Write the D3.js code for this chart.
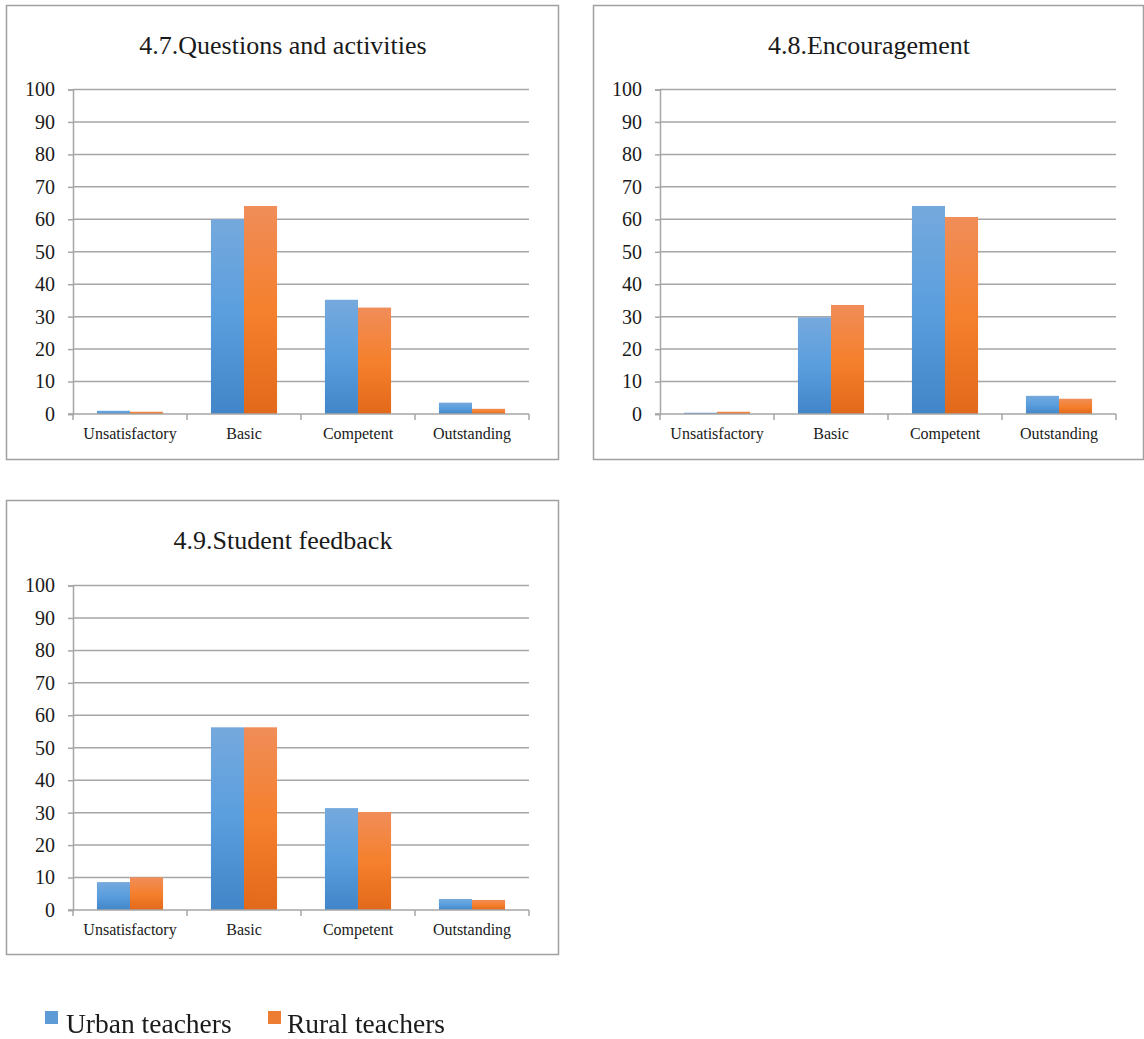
<!DOCTYPE html>
<html>
<head>
<meta charset="utf-8">
<script src="https://cdn.jsdelivr.net/npm/d3@7/dist/d3.min.js"></script>
<style>
  html, body { margin: 0; padding: 0; background: #fff; }
  svg { display: block; }
  svg text { font-family: "Liberation Serif", "Times New Roman", Times, serif; fill: #1a1a1a; }
</style>
</head>
<body>
<svg id="chart" width="1144" height="1039"></svg>
<script>
// Rating levels on the x axis
const categories = ["Unsatisfactory", "Basic", "Competent", "Outstanding"];
const seriesNames = ["Urban teachers", "Rural teachers"];
const yTickValues = [0, 10, 20, 30, 40, 50, 60, 70, 80, 90, 100];

// Percentages per panel
const titles = ["4.7.Questions and activities", "4.8.Encouragement", "4.9.Student feedback"];
const urban47 = [1.0, 60.0, 35.2, 3.5];
const rural47 = [0.7, 64.1, 32.8, 1.6];
const urban48 = [0.4, 29.8, 64.1, 5.6];
const rural48 = [0.7, 33.6, 60.7, 4.7];
const urban49 = [8.6, 56.3, 31.4, 3.4];
const rural49 = [10.1, 56.3, 30.2, 3.1];

const panelData = [
  { title: titles[0], urban: urban47, rural: rural47 },
  { title: titles[1], urban: urban48, rural: rural48 },
  { title: titles[2], urban: urban49, rural: rural49 }
];

// Frame and plot placement of each panel
const panelBoxes = [
  { x: 6,   y: 5,   w: 552, h: 454 },
  { x: 593, y: 5,   w: 550, h: 454 },
  { x: 6,   y: 500, w: 552, h: 454 }
];
const plotOffsets = [
  { left: 67, top: 84.5 },
  { left: 67, top: 84.5 },
  { left: 67, top: 85.5 }
];
const plotW = 456, plotH = 324.5;
const serif = "'Liberation Serif', 'Times New Roman', Times, serif";

const svg = d3.select("#chart");
svg.append("rect").attr("width", 1144).attr("height", 1039).attr("fill", "#fff");

const defs = svg.append("defs");
// Vertical gradients for the two series
function addGradient(id, stops) {
  const g = defs.append("linearGradient").attr("id", id)
    .attr("x1", 0).attr("y1", 0).attr("x2", 0).attr("y2", 1);
  stops.forEach(s => g.append("stop").attr("offset", s[0]).attr("stop-color", s[1]));
}
addGradient("gUrban", [[0, "#75A9DD"], [0.5, "#5A9EDE"], [1, "#4285C8"]]);
addGradient("gRural", [[0, "#F08D59"], [0.5, "#F5802D"], [1, "#E2691A"]]);
const fills = ["url(#gUrban)", "url(#gRural)"];

// soft edge for the legend row
defs.append("filter").attr("id", "soft")
  .append("feGaussianBlur").attr("stdDeviation", 0.6);

const gridColor = "#A6A6A6";

panelData.forEach((pd, i) => {
  const box = panelBoxes[i];
  const off = plotOffsets[i];

  svg.append("rect")
    .attr("x", box.x + 0.5).attr("y", box.y + 0.5)
    .attr("width", box.w).attr("height", box.h)
    .attr("fill", "#fff").attr("stroke", "#A0A0A0").attr("stroke-width", 1.5);

  svg.append("text")
    .attr("x", box.x + box.w / 2 + 1).attr("y", box.y + 49)
    .attr("text-anchor", "middle")
    .attr("font-family", serif)
    .attr("font-size", 26)
    .text(pd.title);

  const g = svg.append("g")
    .attr("transform", `translate(${box.x + off.left},${box.y + off.top})`);

  const y = d3.scaleLinear().domain([0, 100]).range([plotH, 0]);
  const x0 = d3.scaleBand().domain(categories).range([0, plotW]).padding(0);
  const bw = x0.bandwidth();
  const groupW = bw * 0.58;
  const x1 = d3.scaleBand().domain(seriesNames)
    .range([(bw - groupW) / 2, (bw + groupW) / 2]).padding(0);

  // horizontal gridlines
  g.append("g").selectAll("line").data(yTickValues.slice(1)).join("line")
    .attr("x1", 0).attr("x2", plotW)
    .attr("y1", d => y(d)).attr("y2", d => y(d))
    .attr("stroke", gridColor).attr("stroke-width", 1.5);

  // bars
  const rows = categories.map((c, k) => ({ cat: c, vals: [pd.urban[k], pd.rural[k]] }));
  const groups = g.append("g").selectAll("g").data(rows).join("g")
    .attr("transform", d => `translate(${x0(d.cat)},0)`);
  groups.selectAll("rect")
    .data(d => d.vals.map((v, s) => ({ v, s })))
    .join("rect")
    .attr("x", d => x1(seriesNames[d.s]))
    .attr("width", x1.bandwidth())
    .attr("y", d => y(d.v))
    .attr("height", d => y(0) - y(d.v))
    .attr("fill", d => fills[d.s]);

  // y axis
  const yAxis = d3.axisLeft(y).tickValues(yTickValues).tickSize(5).tickPadding(13);
  const ya = g.append("g").call(yAxis).attr("font-family", serif);
  ya.select(".domain").attr("stroke", gridColor).attr("stroke-width", 1.5);
  ya.selectAll(".tick line").attr("stroke", gridColor).attr("stroke-width", 1.5);
  ya.selectAll(".tick text").attr("font-size", 20).attr("font-family", serif).attr("fill", "#1a1a1a");

  // x axis with ticks at category boundaries
  const xa = g.append("g").attr("transform", `translate(0,${plotH})`);
  xa.append("line").attr("x1", -5).attr("x2", plotW).attr("stroke", gridColor).attr("stroke-width", 1.5);
  const bounds = categories.map(c => x0(c)).concat([plotW]);
  xa.selectAll("line.tk").data(bounds).join("line").attr("class", "tk")
    .attr("x1", d => d).attr("x2", d => d).attr("y1", 0).attr("y2", 6)
    .attr("stroke", gridColor).attr("stroke-width", 1.5);
  xa.selectAll("text").data(categories).join("text")
    .attr("x", d => x0(d) + bw / 2).attr("y", 25)
    .attr("text-anchor", "middle").attr("font-size", 16)
    .attr("font-family", serif)
    .text(d => d);
});

// legend
const legend = svg.append("g").attr("transform", "translate(0,1033)").attr("filter", "url(#soft)");
const legendItems = [
  { name: seriesNames[0], sx: 45, tx: 66, color: "#5B9BD5" },
  { name: seriesNames[1], sx: 268, tx: 287, color: "#ED7D31" }
];
legendItems.forEach(it => {
  legend.append("rect").attr("x", it.sx).attr("y", -22).attr("width", 13).attr("height", 13)
    .attr("fill", it.color);
  legend.append("text").attr("x", it.tx).attr("y", 0).attr("font-size", 27.5)
    .attr("font-family", serif)
    .attr("fill", "#222").text(it.name);
});
</script>
</body>
</html>
